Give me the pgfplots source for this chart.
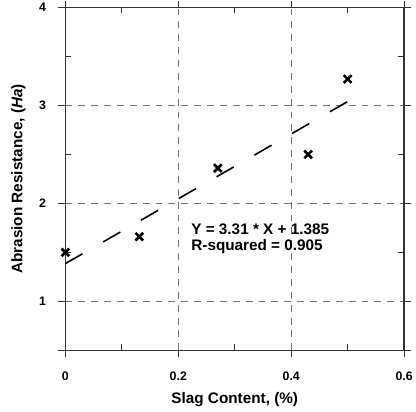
\documentclass[border=0pt]{standalone}
\usepackage{fontspec}
\setmainfont{Liberation Sans}
\usepackage{pgfplots}
\pgfplotsset{compat=1.18}
\begin{document}
\begin{tikzpicture}
\begin{axis}[
  width=342bp, height=346bp, scale only axis,
  xmin=0, xmax=0.6, ymin=0.5, ymax=4,
  xtick={0,0.2,0.4,0.6},
  xticklabels={\textbf{0},\textbf{0.2},\textbf{0.4},\textbf{0.6}},
  ytick={0.5,1,2,3,4},
  yticklabels={,\textbf{1},\textbf{2},\textbf{3},\textbf{4}},
  extra x ticks={0.1,0.3,0.5}, extra x tick labels={},
  extra y ticks={1.5,2.5,3.5}, extra y tick labels={},
  extra tick style={tick align=inside, grid=none, major tick length=6bp},
  major tick length=7bp,
  every tick/.style={black!80, line width=1pt},
  tick align=outside,
  axis line style={black!80, line width=1.3pt},
  xmajorgrids, ymajorgrids,
  grid style={black!55, dash pattern=on 7bp off 6bp, line width=0.9pt},
  tick label style={font=\fontsize{12.5}{14}\selectfont\bfseries},
  xticklabel style={yshift=-11bp},
  yticklabel style={xshift=-9bp},
  label style={font=\fontsize{15.5}{18}\selectfont\bfseries},
  xlabel={Slag Content, (\%)},
  ylabel={Abrasion Resistance, (\textit{Ha})},
  xlabel style={yshift=2bp},
  clip=false,
]
\addplot[black, line width=1.6pt, dash pattern=on 20bp off 24bp] coordinates {(0,1.385) (0.5,3.04)};
\addplot[only marks, mark=x, mark size=5.5bp, line width=2.6pt, black] coordinates {
  (0,1.5) (0.131,1.66) (0.27,2.36) (0.43,2.5) (0.5,3.27)
};
\node[anchor=base west, font=\fontsize{15.5}{18}\selectfont\bfseries, inner sep=0pt] at (axis cs:0.2228,1.687) {Y = 3.31 * X + 1.385};
\node[anchor=base west, font=\fontsize{15.5}{18}\selectfont\bfseries, inner sep=0pt] at (axis cs:0.2228,1.515) {R-squared = 0.905};
\end{axis}
\path (current axis.south west) ++(-66bp,-62bp);
\path (current axis.north east) ++(8bp,7bp);
\end{tikzpicture}
\end{document}
